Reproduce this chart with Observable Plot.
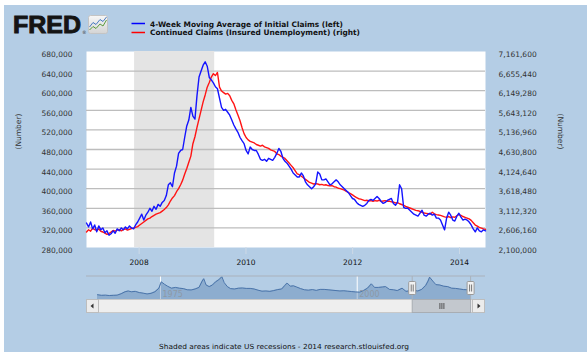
<!DOCTYPE html>
<html><head><meta charset="utf-8">
<script src="https://cdn.jsdelivr.net/npm/d3@7"></script>
<script src="https://cdn.jsdelivr.net/npm/@observablehq/plot@0.6"></script>
<style>
html,body{margin:0;padding:0;background:#fff;}
#wrap{position:relative;width:587px;height:359px;overflow:hidden;background:#fff;}
#panel{position:absolute;left:4px;top:5px;width:583px;height:347px;background:#b4cde5;}
</style></head>
<body><div id="wrap"><div id="panel"></div></div>
<script>
// ---------- data ----------
// week-ending dates, every 14 days from 2007-01-06 to 2014-06-28 (196 points)
const firstWeek = [2007, 0, 6];
const nWeeks = 196;
// 4-Week Moving Average of Initial Claims (thousands), left axis
const initialClaims = [
 330,322,332,318,326,312,324,316,320,310,314,305,308,314,309,318,314,320,316,322,318,324,320,318,326,332,
 340,348,336,346,352,360,354,364,358,368,364,372,376,386,408,412,404,432,446,472,478,480,505,528,540,566,
 548,542,590,628,640,652,659,650,627,622,616,608,604,585,566,560,562,556,550,540,530,522,515,505,498,492,
 478,471,485,480,478,478,470,460,458,460,456,462,460,458,464,472,482,476,462,456,452,446,440,432,428,424,
 424,432,426,414,408,404,400,404,410,434,430,418,418,420,414,408,410,414,418,414,408,404,400,396,392,386,380,
 378,372,368,366,364,366,370,376,378,376,380,384,380,374,370,372,376,378,380,370,366,372,408,400,362,360,
 360,356,352,348,346,344,350,356,346,344,348,350,346,348,340,340,336,326,316,340,352,346,336,334,344,350,
 342,336,338,336,332,326,318,312,320,314,312,316,314
];
// Continued Claims (Insured Unemployment) (millions), right axis
const continuedClaims = [
 2.50,2.56,2.52,2.60,2.56,2.54,2.58,2.52,2.50,2.47,2.44,2.46,2.50,2.54,2.52,2.55,2.56,2.53,2.56,2.58,2.55,2.57,2.59,2.60,2.62,2.64,
 2.68,2.72,2.76,2.80,2.84,2.86,2.90,2.93,2.96,2.98,3.00,3.04,3.08,3.13,3.20,3.30,3.38,3.44,3.54,3.62,3.72,3.84,4.00,4.14,4.30,4.46,
 4.78,4.96,5.20,5.42,5.64,5.86,6.04,6.24,6.36,6.50,6.59,6.54,6.62,6.24,6.14,6.10,6.06,6.08,6.02,5.90,5.81,5.66,5.52,5.38,5.20,5.04,
 4.94,4.88,4.84,4.82,4.80,4.76,4.74,4.72,4.74,4.70,4.68,4.66,4.62,4.60,4.58,4.52,4.50,4.46,4.43,4.40,4.34,4.28,4.22,4.16,4.08,4.00,
 3.98,3.94,3.90,3.86,3.82,3.78,3.76,3.74,3.75,3.74,3.72,3.73,3.71,3.72,3.70,3.69,3.70,3.67,3.66,3.63,3.62,3.60,3.58,3.55,3.52,3.49,3.46,
 3.42,3.39,3.36,3.35,3.33,3.31,3.32,3.30,3.31,3.29,3.31,3.30,3.32,3.29,3.30,3.31,3.29,3.30,3.28,3.27,3.25,3.26,3.23,3.21,3.19,3.16,
 3.14,3.12,3.10,3.08,3.06,3.05,3.03,3.01,2.99,2.98,2.97,2.96,3.01,2.97,2.95,2.94,2.93,2.91,2.89,2.88,2.90,2.87,2.89,2.88,2.92,2.95,
 2.93,2.90,2.88,2.86,2.84,2.80,2.74,2.68,2.65,2.62,2.60,2.58,2.57
];
const leftTicks = [280000,320000,360000,400000,440000,480000,520000,560000,600000,640000,680000];
const rightTicks = [2100000,2606160,3112320,3618480,4124640,4630800,5136960,5643120,6149280,6655440,7161600];
const xTickYears = [2008, 2010, 2012, 2014];
const recessionStart = ["2007-12-01"];
const recessionEnd = ["2009-06-01"];

// navigator: long history of initial claims (thousands)
const navYears = [1967.0,1967.5,1968.0,1968.5,1969.0,1969.5,1970.0,1970.5,1970.9,1971.3,1971.8,1972.3,1972.8,1973.3,1973.8,1974.3,1974.8,1975.1,1975.5,1975.9,1976.4,1976.9,1977.4,1977.9,1978.4,1978.9,1979.4,1979.9,1980.3,1980.5,1980.8,1981.2,1981.6,1982.0,1982.4,1982.8,1983.1,1983.5,1983.9,1984.4,1984.9,1985.4,1985.9,1986.4,1986.9,1987.4,1987.9,1988.4,1988.9,1989.4,1989.9,1990.4,1990.8,1991.1,1991.5,1991.9,1992.3,1992.8,1993.3,1993.8,1994.3,1994.8,1995.3,1995.8,1996.3,1996.8,1997.3,1997.8,1998.3,1998.8,1999.3,1999.8,2000.3,2000.8,2001.3,2001.8,2002.2,2002.7,2003.2,2003.6,2004.1,2004.6,2005.1,2005.7,2006.2,2006.7,2007.2,2007.7,2008.2,2008.7,2009.0,2009.2,2009.6,2010.0,2010.5,2011.0,2011.5,2012.0,2012.5,2013.0,2013.5,2014.0,2014.5];
const navClaims = [215,200,205,195,200,205,240,290,310,290,300,270,255,235,250,290,380,540,480,430,380,400,380,370,340,335,360,400,560,620,460,420,460,540,590,670,520,420,370,360,380,385,375,375,360,330,305,310,300,320,345,360,450,510,430,440,410,370,340,330,345,325,350,350,340,330,320,310,315,305,295,285,280,320,380,490,400,400,410,420,350,340,320,380,300,315,325,310,350,450,560,659,560,470,460,430,420,380,375,360,345,340,315];
const navLabelYears = [1975, 2000];
const navSelection = [2007.05, 2014.47];

// ---------- helpers ----------
const W = 587, H = 359;
const fmt = d3.format(",");
const rScale = (7161600 - 2100000) / (680000 - 280000);
const toLeft = v => 280000 + (v - 2100000) / rScale;
const fromLeft = v => 2100000 + (v - 280000) * rScale;
const dates = d3.range(nWeeks).map(i => new Date(Date.UTC(firstWeek[0], firstWeek[1], firstWeek[2] + 14 * i)));
const series = dates.map((d, i) => ({date: d, ic: initialClaims[i] * 1000, cc: continuedClaims[i] * 1e6}));
const recessions = recessionStart.map((s, i) => ({start: new Date(s), end: new Date(recessionEnd[i])}));
const xTicks = xTickYears.map(y => new Date(Date.UTC(y, 0, 1)));
const navData = navYears.map((y, i) => ({year: y, v: navClaims[i]}));
const font = "'DejaVu Sans', Verdana, sans-serif";
const absStyle = {position: "absolute", left: "0px", top: "0px", background: "transparent", fontFamily: font, fontSize: "7.5px", overflow: "visible"};

// ---------- main chart ----------
const main = Plot.plot({
  width: W, height: H,
  marginTop: 51, marginBottom: 112, marginLeft: 86, marginRight: 102,
  style: absStyle,
  x: {type: "utc", domain: [new Date(Date.UTC(2007, 0, 6)), new Date(Date.UTC(2014, 5, 28))]},
  y: {domain: [280000, 680000]},
  marks: [
    Plot.frame({fill: "#ffffff", stroke: "none"}),
    Plot.rect(recessions, {x1: "start", x2: "end", fill: "#e4e4e4"}),
    Plot.gridY(leftTicks.slice(1, -1), {stroke: "#bdbdbd", strokeOpacity: 1, strokeWidth: 1.3}),
    Plot.line(series, {x: "date", y: "cc", y: d => toLeft(d.cc), stroke: "#ff1414", strokeWidth: 1.4}),
    Plot.line(series, {x: "date", y: "ic", stroke: "#1414ff", strokeWidth: 1.4}),
    Plot.axisY(leftTicks, {anchor: "left", tickSize: 0, tickPadding: 14, tickFormat: fmt, label: null, dy: 3, fill: "#333"}),
    Plot.axisY(rightTicks.map(toLeft), {anchor: "right", tickSize: 0, tickPadding: 13, tickFormat: d => fmt(Math.round(fromLeft(d))), label: null, dy: 3, fill: "#333"}),
    Plot.axisX(xTicks, {anchor: "bottom", tickSize: 7, tickPadding: 5, tickFormat: d3.utcFormat("%Y"), label: null, stroke: "#cdd9e6", fill: "#111"}),
    Plot.text(["(Number)"], {frameAnchor: "left", dx: -68, rotate: -90, fill: "#333"}),
    Plot.text(["(Number)"], {frameAnchor: "right", dx: 75, rotate: 90, fill: "#333"})
  ]
});
document.getElementById("wrap").appendChild(main);

// ---------- navigator ----------
const nav = Plot.plot({
  width: W, height: H,
  marginTop: 276, marginBottom: H - 299, marginLeft: 86, marginRight: W - 485,
  style: absStyle,
  x: {domain: [1965.6, 2016.3], axis: null},
  y: {domain: [95, 675], axis: null},
  marks: [
    Plot.ruleX(navLabelYears, {stroke: "#ffffff", strokeWidth: 1}),
    Plot.areaY(navData, {x: "year", y1: 95, y2: "v", fill: "#4572a7", fillOpacity: 0.35}),
    Plot.lineY(navData, {x: "year", y: "v", stroke: "#4a74aa", strokeWidth: 1}),
    Plot.text(navLabelYears, {x: d => d, text: d => String(d), frameAnchor: "bottom", dx: 2, dy: -3, textAnchor: "start", fill: "#8d99a6", fontSize: 8})
  ]
});
document.getElementById("wrap").appendChild(nav);
{
  const sx = nav.scale("x");
  const svg = d3.select(nav);
  const xa = sx.apply(navSelection[0]), xb = sx.apply(navSelection[1]);
  svg.append("line").attr("x1", 86).attr("x2", 485).attr("y1", 276).attr("y2", 276).attr("stroke", "#a9b2bc").attr("stroke-width", 1.2);
  // scrollbar
  const sb = svg.append("g");
  sb.append("rect").attr("x", 86.5).attr("y", 299.5).attr("width", 398).attr("height", 13).attr("fill", "#eeeeee").attr("stroke", "#c9c9c9");
  sb.append("rect").attr("x", xa).attr("y", 299.5).attr("width", xb - xa).attr("height", 13).attr("fill", "#c3c8ce").attr("stroke", "#a8adb3");
  const mid = (xa + xb) / 2;
  [-2, 0, 2].forEach(o => sb.append("line").attr("x1", mid + o + 0.5).attr("x2", mid + o + 0.5).attr("y1", 303).attr("y2", 309).attr("stroke", "#555"));
  sb.append("rect").attr("x", 86.5).attr("y", 299.5).attr("width", 12).attr("height", 13).attr("fill", "#ececec").attr("stroke", "#bdbdbd");
  sb.append("path").attr("d", "M90.5,306 L93.5,303.5 L93.5,308.5 Z").attr("fill", "#333");
  sb.append("rect").attr("x", 472.5).attr("y", 299.5).attr("width", 12).attr("height", 13).attr("fill", "#ececec").attr("stroke", "#bdbdbd");
  sb.append("path").attr("d", "M480.5,306 L477.5,303.5 L477.5,308.5 Z").attr("fill", "#333");
  // handles
  [xa, xb].forEach(x => {
    const g = svg.append("g");
    g.append("line").attr("x1", x).attr("x2", x).attr("y1", 276).attr("y2", 299).attr("stroke", "#a9b2bc");
    g.append("rect").attr("x", x - 3.5).attr("y", 281.5).attr("width", 7).attr("height", 13).attr("rx", 1).attr("fill", "#f2f2f2").attr("stroke", "#9a9a9a");
    g.append("line").attr("x1", x - 1).attr("x2", x - 1).attr("y1", 284.5).attr("y2", 291.5).attr("stroke", "#777");
    g.append("line").attr("x1", x + 1).attr("x2", x + 1).attr("y1", 284.5).attr("y2", 291.5).attr("stroke", "#777");
  });
}

// ---------- header, legend, caption ----------
const ns = "http://www.w3.org/2000/svg";
const over = d3.select("#wrap").append("svg").attr("xmlns", ns).attr("width", W).attr("height", H)
  .style("position", "absolute").style("left", "0px").style("top", "0px");
over.append("text").attr("x", 13).attr("y", 33.3).attr("font-family", "'Liberation Sans', Arial, sans-serif")
  .attr("font-weight", 900).attr("font-size", 23).attr("fill", "#141414").attr("stroke", "#141414").attr("stroke-width", 0.9)
  .attr("textLength", 68).attr("lengthAdjust", "spacingAndGlyphs").text("FRED");
over.append("text").attr("x", 82).attr("y", 34).attr("font-family", font).attr("font-size", 4.5).attr("fill", "#333").text("®");
const defs = over.append("defs");
const gr = defs.append("linearGradient").attr("id", "ig").attr("x1", 0).attr("y1", 0).attr("x2", 0).attr("y2", 1);
gr.append("stop").attr("offset", 0).attr("stop-color", "#f7f7f7");
gr.append("stop").attr("offset", 1).attr("stop-color", "#d4d4d4");
over.append("rect").attr("x", 88.5).attr("y", 15.5).attr("width", 19).attr("height", 18).attr("rx", 2).attr("fill", "url(#ig)").attr("stroke", "#c4c4c4");
over.append("polyline").attr("points", "89.5,30 93,26.5 96,28.5 100,24 103,26 106.5,20").attr("fill", "none").attr("stroke", "#5b9b3c").attr("stroke-width", 1);
over.append("polyline").attr("points", "89.5,27 93,22.5 96,24.5 100,19.5 103,21.5 106.5,17").attr("fill", "none").attr("stroke", "#4a7bc2").attr("stroke-width", 1);
over.append("line").attr("x1", 131.5).attr("x2", 145).attr("y1", 23.5).attr("y2", 23.5).attr("stroke", "#0000ff").attr("stroke-width", 1.5);
over.append("line").attr("x1", 131.5).attr("x2", 145).attr("y1", 32.5).attr("y2", 32.5).attr("stroke", "#ff0000").attr("stroke-width", 1.5);
over.append("text").attr("x", 150).attr("y", 26.5).attr("font-family", font).attr("font-weight", "bold").attr("font-size", 7.5)
  .attr("fill", "#111").attr("textLength", 193).attr("lengthAdjust", "spacingAndGlyphs").text("4-Week Moving Average of Initial Claims (left)");
over.append("text").attr("x", 150).attr("y", 35.3).attr("font-family", font).attr("font-weight", "bold").attr("font-size", 7.5)
  .attr("fill", "#111").attr("textLength", 210).attr("lengthAdjust", "spacingAndGlyphs").text("Continued Claims (Insured Unemployment) (right)");
over.append("text").attr("x", 159).attr("y", 348.5).attr("font-family", font).attr("font-size", 7)
  .attr("fill", "#111").attr("textLength", 250).attr("lengthAdjust", "spacingAndGlyphs").text("Shaded areas indicate US recessions - 2014 research.stlouisfed.org");
</script>
</body></html>
